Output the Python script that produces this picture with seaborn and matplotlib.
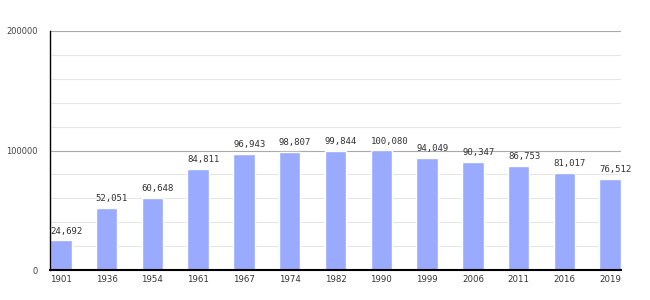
import matplotlib
matplotlib.use("Agg")
import matplotlib.pyplot as plt
import seaborn as sns
import pandas as pd
from matplotlib.ticker import MultipleLocator

years = ["1901", "1936", "1954", "1961", "1967", "1974", "1982", "1990", "1999", "2006", "2011", "2016", "2019"]
population = [24692, 52051, 60648, 84811, 96943, 98807, 99844, 100080, 94049, 90347, 86753, 81017, 76512]
yticks = [0, 100000, 200000]
ytick_labels = ["0", "100000", "200000"]

df = pd.DataFrame({"year": years, "pop": population})

sns.set_style("white")
plt.rcParams['font.family'] = ['DejaVu Sans']

fig = plt.figure(figsize=(6.5, 3.0), dpi=100)
ax = fig.add_axes([50/650, 30/300, 571/650, 239/300])

bar_w = 0.47
sns.barplot(data=df, x="year", y="pop", color="#99aaff", saturation=1, width=bar_w, ax=ax, zorder=3)

ax.set_ylim(0, 200000)
ax.set_xlim(-bar_w / 2, len(years) - 1 + bar_w / 2)
ax.set_yticks(yticks)
ax.set_yticklabels(ytick_labels, fontsize=6, color="#444444")
ax.yaxis.set_minor_locator(MultipleLocator(20000))
ax.tick_params(axis="y", which="major", length=4, width=1, color="#999999", pad=5)
ax.tick_params(axis="y", which="minor", length=3, width=1, color="#000000")
ax.tick_params(axis="x", length=0, labelsize=6.2, pad=3.5, labelcolor="#333333")
ax.grid(axis="y", which="minor", color="#e6e6e6", linewidth=0.8, zorder=0)
ax.grid(axis="y", which="major", color="#aaaaaa", linewidth=0.8, zorder=1)
ax.set_xlabel("")
ax.set_ylabel("")
for s in ["top", "right"]:
    ax.spines[s].set_visible(False)
ax.spines["left"].set_color("black")
ax.spines["left"].set_linewidth(1)
ax.spines["bottom"].set_color("black")
ax.spines["bottom"].set_linewidth(1.5)
ax.spines["left"].set_zorder(5)
ax.spines["bottom"].set_zorder(5)

for i, v in enumerate(population):
    ax.annotate(f"{v:,}", xy=(i - bar_w / 2, v), xytext=(0, 3.5), textcoords="offset points",
                ha="left", va="bottom", fontsize=6.5,
                family="DejaVu Sans Mono", color="#333333", zorder=6)

fig.savefig("out.png", dpi=100)
